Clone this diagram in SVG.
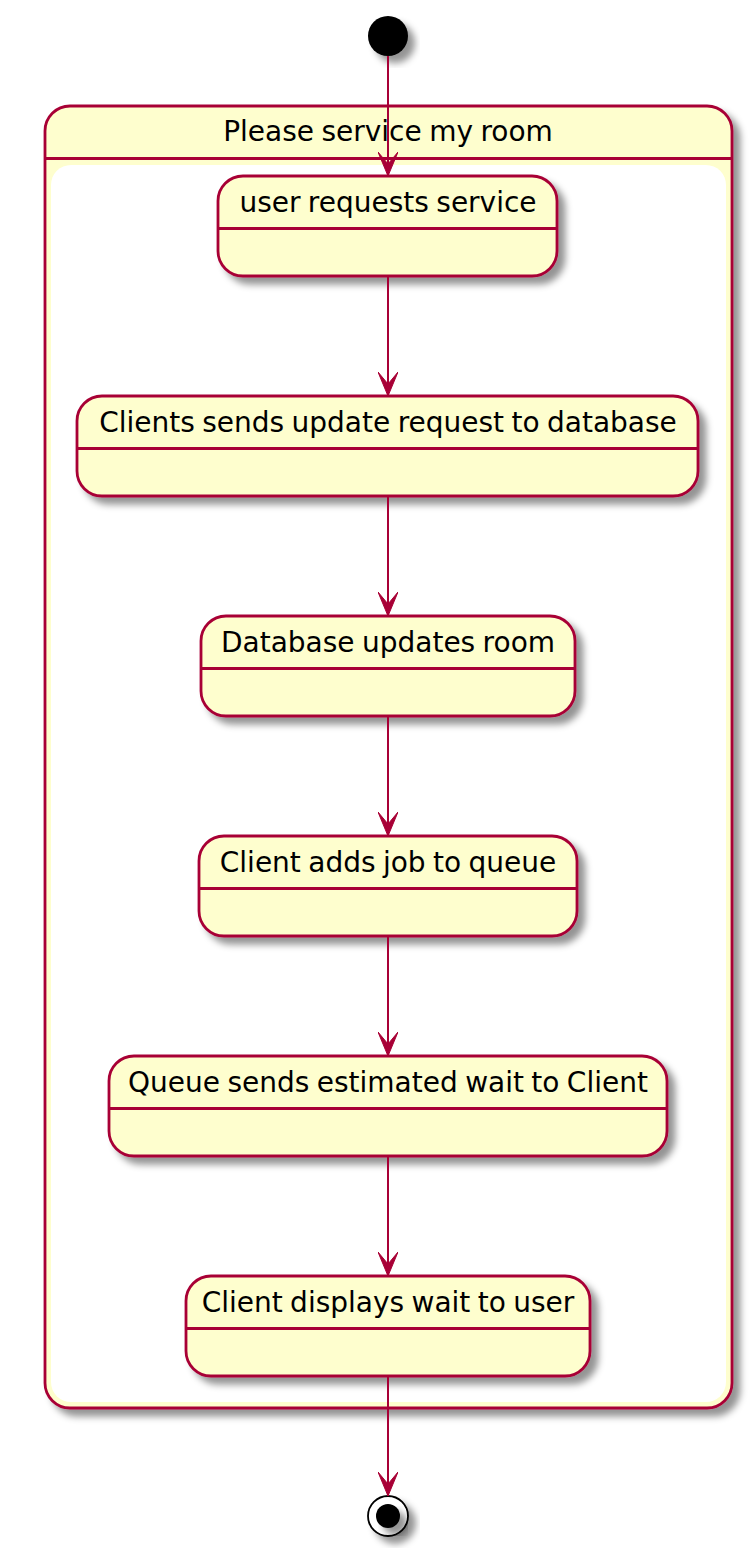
<svg xmlns="http://www.w3.org/2000/svg" width="754" height="1556" viewBox="0 0 754 1556">
<defs>
<filter id="sh" x="-20%" y="-20%" width="150%" height="150%">
<feGaussianBlur in="SourceAlpha" stdDeviation="3.5"/>
<feColorMatrix values="0 0 0 0 0  0 0 0 0 0  0 0 0 0 0  0 0 0 0.42 0"/>
<feOffset dx="7" dy="7" result="s"/>
<feMerge><feMergeNode in="s"/><feMergeNode in="SourceGraphic"/></feMerge>
</filter>
<marker id="ah" viewBox="0 0 24 20" refX="24" refY="10" markerWidth="24" markerHeight="20" markerUnits="userSpaceOnUse" orient="auto">
<polygon points="24,10 0,0 12,10 0,20" fill="#A80036" stroke="#A80036" stroke-width="1"/>
</marker>
</defs>
<style>
.st{fill:#FEFECE;stroke:#A80036;stroke-width:2.8;}
.sep{stroke:#A80036;stroke-width:2.8;}
.t{font-family:"DejaVu Sans",sans-serif;font-size:28px;word-spacing:-1.5px;fill:#000;text-anchor:middle;}
.c{stroke:#A80036;stroke-width:2;fill:none;}
</style>
<rect width="754" height="1556" fill="#FFFFFF"/>

<g id="start">
<circle cx="388" cy="36" r="20" fill="#000" filter="url(#sh)"/>
</g>

<g id="composite">
<rect class="st" x="45" y="106" width="687" height="1302" rx="25" filter="url(#sh)"/>
<line class="sep" x1="45" y1="158.5" x2="732" y2="158.5"/>
<rect x="51" y="165" width="675" height="1237" rx="20" fill="#FFFFFF"/>
<text class="t" x="388" y="141">Please service my room</text>
</g>

<g id="n1">
<rect class="st" x="218" y="176" width="339" height="100" rx="25" filter="url(#sh)"/>
<line class="sep" x1="218" y1="228.5" x2="557" y2="228.5"/>
<text class="t" x="388" y="212">user requests service</text>
</g>
<g id="n2">
<rect class="st" x="77" y="396" width="621" height="100" rx="25" filter="url(#sh)"/>
<line class="sep" x1="77" y1="448.5" x2="698" y2="448.5"/>
<text class="t" x="388" y="432">Clients sends update request to database</text>
</g>
<g id="n3">
<rect class="st" x="201" y="616" width="374" height="100" rx="25" filter="url(#sh)"/>
<line class="sep" x1="201" y1="668.5" x2="575" y2="668.5"/>
<text class="t" x="388" y="652">Database updates room</text>
</g>
<g id="n4">
<rect class="st" x="199" y="836" width="378" height="100" rx="25" filter="url(#sh)"/>
<line class="sep" x1="199" y1="888.5" x2="577" y2="888.5"/>
<text class="t" x="388" y="872">Client adds job to queue</text>
</g>
<g id="n5">
<rect class="st" x="109" y="1056" width="558" height="100" rx="25" filter="url(#sh)"/>
<line class="sep" x1="109" y1="1108.5" x2="667" y2="1108.5"/>
<text class="t" x="388" y="1092">Queue sends estimated wait to Client</text>
</g>
<g id="n6">
<rect class="st" x="186" y="1276" width="404" height="100" rx="25" filter="url(#sh)"/>
<line class="sep" x1="186" y1="1328.5" x2="590" y2="1328.5"/>
<text class="t" x="388" y="1312">Client displays wait to user</text>
</g>

<g id="end">
<circle cx="388" cy="1516" r="20" fill="#FFFFFF" stroke="#000" stroke-width="1.8" filter="url(#sh)"/>
<circle cx="388" cy="1516" r="12" fill="#000" filter="url(#sh)"/>
</g>

<g id="connectors">
<line class="c" x1="388" y1="56" x2="388" y2="176" marker-end="url(#ah)"/>
<line class="c" x1="388" y1="277" x2="388" y2="396" marker-end="url(#ah)"/>
<line class="c" x1="388" y1="497" x2="388" y2="616" marker-end="url(#ah)"/>
<line class="c" x1="388" y1="717" x2="388" y2="836" marker-end="url(#ah)"/>
<line class="c" x1="388" y1="937" x2="388" y2="1056" marker-end="url(#ah)"/>
<line class="c" x1="388" y1="1157" x2="388" y2="1276" marker-end="url(#ah)"/>
<line class="c" x1="388" y1="1377" x2="388" y2="1496" marker-end="url(#ah)"/>
</g>
</svg>
